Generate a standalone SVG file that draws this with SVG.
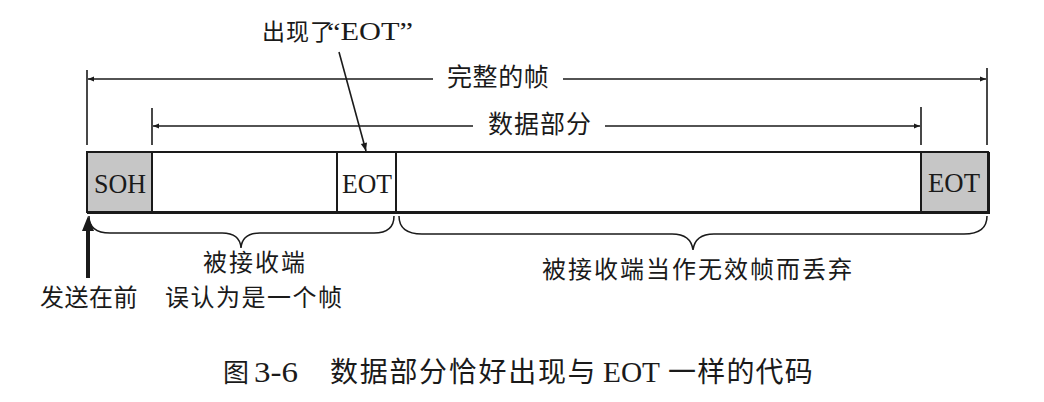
<svg xmlns="http://www.w3.org/2000/svg" width="1044" height="402" viewBox="0 0 1044 402">
<defs>
<style>
.cjk{font-family:"Noto Sans CJK SC","Noto Sans",sans-serif;fill:#1a1a1a}
.lat{font-family:"Liberation Serif","Times New Roman",serif;fill:#1a1a1a}
.ln{stroke:#1a1a1a;stroke-width:1.6;fill:none}
.box{stroke:#1a1a1a;stroke-width:2}
.brace{stroke:#1a1a1a;stroke-width:1.5;fill:none}
</style>
<marker id="ah" viewBox="0 0 10 10" refX="10" refY="5" markerWidth="7" markerHeight="6" markerUnits="userSpaceOnUse" orient="auto-start-reverse">
<path d="M0,1 L10,5 L0,9 z" fill="#1a1a1a"/>
</marker>
<marker id="ah2" viewBox="0 0 10 10" refX="10" refY="5" markerWidth="10" markerHeight="8" markerUnits="userSpaceOnUse" orient="auto">
<path d="M0,1 L10,5 L0,9 z" fill="#1a1a1a"/>
</marker>
</defs>
<rect width="1044" height="402" fill="#ffffff"/>

<g id="frame">
<rect x="87" y="152" width="65" height="60" fill="#c6c6c6" class="box"/>
<rect x="152" y="152" width="185" height="60" fill="#ffffff" class="box"/>
<rect x="337" y="152" width="59" height="60" fill="#ffffff" class="box"/>
<rect x="396" y="152" width="525" height="60" fill="#ffffff" class="box"/>
<rect x="921" y="152" width="67" height="60" fill="#c6c6c6" class="box"/>
<line x1="87" y1="212.5" x2="990" y2="212.5" stroke="#1a1a1a" stroke-width="3"/>
<line x1="988.5" y1="152" x2="988.5" y2="214" stroke="#1a1a1a" stroke-width="3"/>
</g>
<g id="soh">
<text class="lat" x="94" y="193" font-size="28" textLength="52" lengthAdjust="spacingAndGlyphs">SOH</text>
</g>
<g id="eot-data">
<text class="lat" x="342" y="193" font-size="28" textLength="50" lengthAdjust="spacingAndGlyphs">EOT</text>
</g>
<g id="eot-end">
<text class="lat" x="928" y="192" font-size="28" textLength="52" lengthAdjust="spacingAndGlyphs">EOT</text>
</g>

<g id="dim-full">
<line class="ln" x1="87" y1="70" x2="87" y2="145"/>
<line class="ln" x1="987" y1="68" x2="987" y2="145"/>
<text class="cjk" x="447" y="86" font-size="25" letter-spacing="0.6">完整的帧</text>
</g>
<g id="dim-data">
<line class="ln" x1="152" y1="108" x2="152" y2="145"/>
<line class="ln" x1="921" y1="107" x2="921" y2="145"/>
<text class="cjk" x="488" y="133" font-size="25" letter-spacing="1">数据部分</text>
</g>
<g id="label-eot">
<text class="cjk" x="262" y="40" font-size="23" letter-spacing="1">出现了</text>
<text class="lat" x="327" y="40" font-size="25" textLength="86" lengthAdjust="spacingAndGlyphs">“EOT”</text>
</g>
<g id="label-left">
<text class="cjk" x="203" y="271" font-size="24" letter-spacing="2">被接收端</text>
<text class="cjk" x="165" y="306" font-size="24" letter-spacing="1.5">误认为是一个帧</text>
</g>
<g id="label-send">
<text class="cjk" x="40" y="306" font-size="24" letter-spacing="0.5">发送在前</text>
</g>
<g id="label-right">
<text class="cjk" x="542" y="278" font-size="24" letter-spacing="2">被接收端当作无效帧而丢弃</text>
</g>

<g id="connectors">
<line class="ln" x1="433" y1="79" x2="88" y2="79" marker-end="url(#ah)"/>
<line class="ln" x1="563" y1="79" x2="986" y2="79" marker-end="url(#ah)"/>
<line class="ln" x1="473" y1="126" x2="153" y2="126" marker-end="url(#ah)"/>
<line class="ln" x1="605" y1="126" x2="920" y2="126" marker-end="url(#ah)"/>
<line class="ln" x1="339" y1="52" x2="366" y2="151" marker-end="url(#ah2)"/>
<line x1="88" y1="278" x2="88" y2="228" stroke="#1a1a1a" stroke-width="4"/>
<path d="M82,231 L88,216 L94,231 z" fill="#1a1a1a"/>
<path class="brace" d="M89,216 Q89,233 110,233 L222,233 Q240,233 241,248 Q242,233 260,233 L374,233 Q394,233 394,216"/>
<path class="brace" d="M399,216 Q399,234 422,234 L672,234 Q691,234 693,250 Q695,234 714,234 L964,234 Q987,234 987,216"/>
</g>

<g id="caption">
<text class="cjk" x="223" y="382" font-size="26">图</text>
<text class="lat" x="254" y="382" font-size="29" textLength="44" lengthAdjust="spacingAndGlyphs">3-6</text>
<text class="cjk" x="330" y="382" font-size="28" letter-spacing="1.7">数据部分恰好出现与</text>
<text class="lat" x="603" y="382" font-size="29" textLength="57" lengthAdjust="spacingAndGlyphs">EOT</text>
<text class="cjk" x="668" y="382" font-size="28" letter-spacing="1.2">一样的代码</text>
</g>
</svg>
